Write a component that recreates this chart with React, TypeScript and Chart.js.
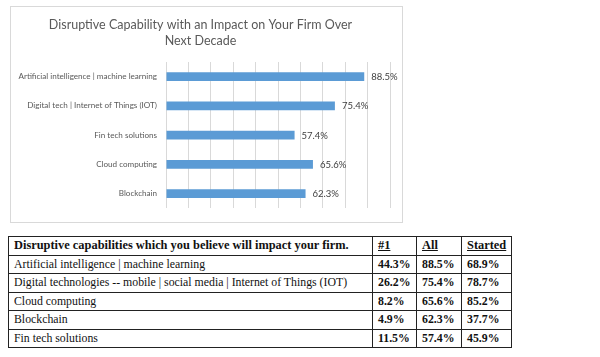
import React, { useEffect, useRef } from "react";
import { Chart, registerables } from "chart.js";
Chart.register(...registerables);

const chartTitle = ["Disruptive Capability with an Impact on Your Firm Over", "Next Decade"];
const categories = [
  "Artificial intelligence | machine learning",
  "Digital tech | Internet of Things (IOT)",
  "Fin tech solutions",
  "Cloud computing",
  "Blockchain",
];
const values = [88.5, 75.4, 57.4, 65.6, 62.3];
const xTicks = { min: 0, max: 100, step: 10 };

const tableHeader = ["Disruptive capabilities which you believe will impact your firm.", "#1", "All", "Started"];
const tableRows = [
  "Artificial intelligence | machine learning",
  "Digital technologies -- mobile | social media | Internet of Things (IOT)",
  "Cloud computing",
  "Blockchain",
  "Fin tech solutions",
];
const firstChoice = ["44.3%", "26.2%", "8.2%", "4.9%", "11.5%"];
const allValues = ["88.5%", "75.4%", "65.6%", "62.3%", "57.4%"];
const startedValues = ["68.9%", "78.7%", "85.2%", "37.7%", "45.9%"];

const SANS = "Lato, 'Open Sans', sans-serif";
const SERIF = "'Liberation Serif', 'DejaVu Serif', serif";

const valueLabels = {
  id: "valueLabels",
  afterDatasetsDraw(chart: any) {
    const ctx = chart.ctx;
    const meta = chart.getDatasetMeta(0);
    ctx.save();
    ctx.font = `9.5px ${SANS}`;
    ctx.fillStyle = "#404040";
    ctx.textBaseline = "middle";
    ctx.textAlign = "left";
    meta.data.forEach((bar: any, i: number) => {
      ctx.fillText(values[i].toFixed(1) + "%", bar.x + 7, bar.y + 0.5);
    });
    ctx.restore();
  },
};

function BarChart() {
  const ref = useRef<HTMLCanvasElement | null>(null);
  useEffect(() => {
    if (!ref.current) return;
    const chart = new Chart(ref.current, {
      type: "bar",
      data: {
        labels: categories,
        datasets: [
          {
            data: values,
            backgroundColor: "#5B9BD5",
            borderWidth: 0,
            categoryPercentage: 1,
            barPercentage: 0.3,
          },
        ],
      },
      options: {
        indexAxis: "y",
        responsive: false,
        animation: false,
        layout: { padding: { left: 0, right: 12, top: 0, bottom: 10 } },
        plugins: {
          legend: { display: false },
          tooltip: { enabled: false },
          title: {
            display: true,
            text: chartTitle,
            color: "#595959",
            font: { family: SANS, size: 12.5, weight: "normal", lineHeight: 16 / 12.5 },
            padding: { top: 10, bottom: 13 },
          },
        },
        scales: {
          x: {
            min: xTicks.min,
            max: xTicks.max,
            ticks: { display: false, stepSize: xTicks.step },
            grid: { color: "#d9d9d9", drawTicks: false },
            border: { display: false },
          },
          y: {
            afterFit: (s: any) => {
              s.width = 155;
            },
            grid: { display: false, drawTicks: false },
            border: { display: false },
            ticks: { color: "#595959", font: { family: SANS, size: 8.1 }, padding: 9 },
          },
        },
      },
      plugins: [valueLabels],
    } as any);
    return () => chart.destroy();
  }, []);
  return <canvas ref={ref} width={391} height={215} style={{ display: "block" }} />;
}

export default function App() {
  const cellBase: React.CSSProperties = {
    border: "1px solid #222",
    padding: "0 5px",
    height: 17.5,
    lineHeight: "17px",
    whiteSpace: "nowrap",
    verticalAlign: "middle",
    overflow: "hidden",
  };
  return (
    <div style={{ position: "absolute", left: 0, top: 0, width: 600, height: 357, background: "#fff", overflow: "hidden" }}>
      <div
        style={{
          position: "absolute",
          left: 10,
          top: 6,
          width: 393,
          height: 217,
          border: "1px solid #d9d9d9",
          boxSizing: "border-box",
        }}
      >
        <BarChart />
      </div>
      <table
        style={{
          position: "absolute",
          left: 8,
          top: 236,
          width: 504,
          borderCollapse: "collapse",
          fontFamily: SERIF,
          fontSize: 11.8,
          color: "#111",
          tableLayout: "fixed",
        }}
      >
        <colgroup>
          <col style={{ width: 364 }} />
          <col style={{ width: 44 }} />
          <col style={{ width: 45 }} />
          <col style={{ width: 50 }} />
        </colgroup>
        <thead>
          <tr>
            <th style={{ ...cellBase, textAlign: "left", fontWeight: "bold", fontSize: 12.4 }}>{tableHeader[0]}</th>
            {tableHeader.slice(1).map((h) => (
              <th
                key={h}
                style={{ ...cellBase, textAlign: "left", fontWeight: "bold", fontSize: 12.4, textDecoration: "underline" }}
              >
                {h}
              </th>
            ))}
          </tr>
        </thead>
        <tbody>
          {tableRows.map((r, i) => (
            <tr key={r}>
              <td style={{ ...cellBase }}>{r}</td>
              <td style={{ ...cellBase, fontWeight: "bold" }}>{firstChoice[i]}</td>
              <td style={{ ...cellBase, fontWeight: "bold" }}>{allValues[i]}</td>
              <td style={{ ...cellBase, fontWeight: "bold" }}>{startedValues[i]}</td>
            </tr>
          ))}
        </tbody>
      </table>
    </div>
  );
}
